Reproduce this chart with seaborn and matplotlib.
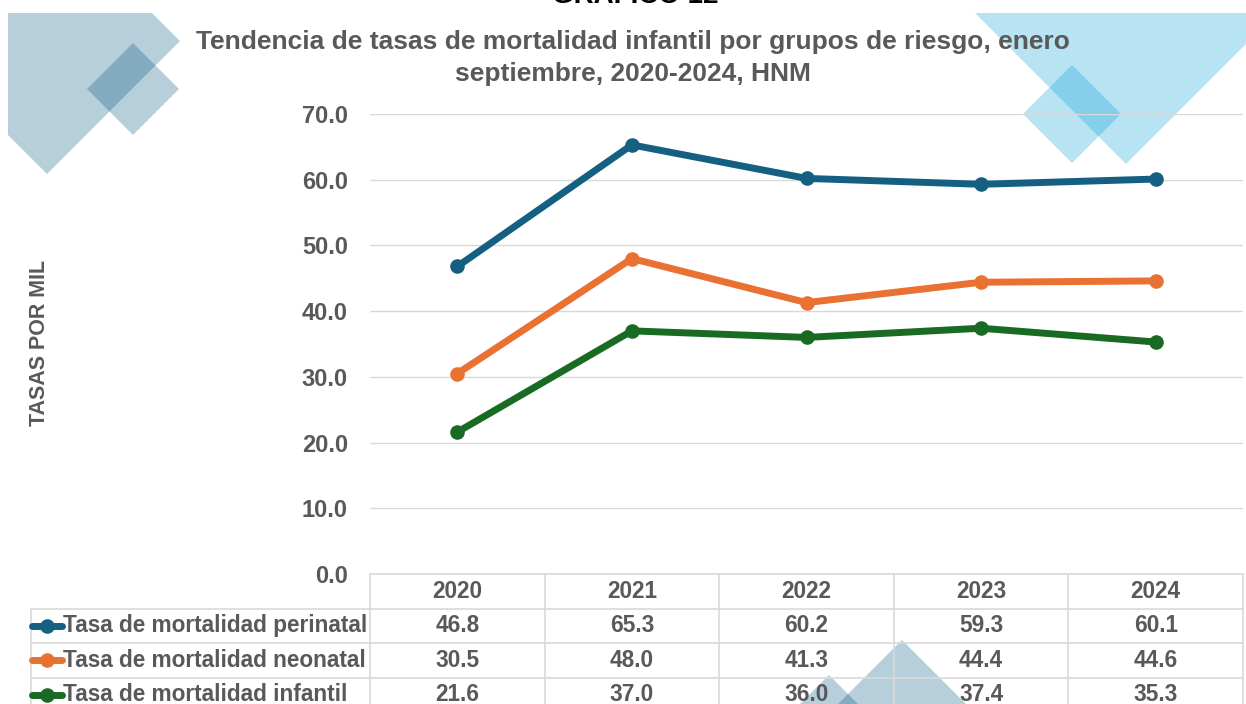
import numpy as np
import pandas as pd
import seaborn as sns
import matplotlib.pyplot as plt
from matplotlib.patches import Polygon, Rectangle
from matplotlib.transforms import blended_transform_factory

# Data
years = ['2020', '2021', '2022', '2023', '2024']
series = ['Tasa de mortalidad perinatal', 'Tasa de mortalidad neonatal', 'Tasa de mortalidad infantil']
perinatal = [46.8, 65.3, 60.2, 59.3, 60.1]
neonatal = [30.5, 48.0, 41.3, 44.4, 44.6]
infantil = [21.6, 37.0, 36.0, 37.4, 35.3]
colors = ['#156082', '#E97132', '#196B24']

values = [perinatal, neonatal, infantil]
pos = np.arange(len(years))
df = pd.DataFrame({
    'pos': np.tile(pos, len(series)),
    'serie': np.repeat(series, len(years)),
    'valor': np.concatenate(values),
})

sns.set_theme(style='white')
plt.rcParams['font.family'] = ['Liberation Sans', 'DejaVu Sans']
plt.rcParams['font.weight'] = 'bold'
text_gray = '#595959'
grid_gray = '#d9d9d9'

W, H = 1246, 704
fig = plt.figure(figsize=(W / 100, H / 100), dpi=100)

# decorative diamonds in pixel coordinates
bg = fig.add_axes([0, 0, 1, 1], zorder=0)
bg.set_xlim(0, W)
bg.set_ylim(H, 0)
bg.axis('off')
clip = Rectangle((8, 13), W, H, transform=bg.transData)


def diamond(cx, cy, r, color, alpha):
    p = Polygon([(cx, cy - r), (cx + r, cy), (cx, cy + r), (cx - r, cy)],
                closed=True, facecolor=color, alpha=alpha, edgecolor='none')
    bg.add_patch(p)
    p.set_clip_path(clip)


grey_blue = '#0a5983'
sky = '#009cd6'
diamond(47, 41, 133, grey_blue, 0.29)
diamond(133, 89, 46, grey_blue, 0.29)
diamond(1126, -86, 250, sky, 0.28)
diamond(1072, 114, 49, sky, 0.28)
diamond(902, 720, 80, grey_blue, 0.29)
diamond(829, 715, 40, grey_blue, 0.29)

# main plot area
x0, x1 = 370, 1243
y_top, y_zero = 114, 574
ax = fig.add_axes([x0 / W, 1 - y_zero / H, (x1 - x0) / W, (y_zero - y_top) / H], zorder=2)
ax.patch.set_alpha(0)
sns.lineplot(data=df, x='pos', y='valor', hue='serie', palette=colors, hue_order=series,
             marker='o', markersize=10.5, markeredgewidth=0, linewidth=5,
             legend=False, ax=ax)
ax.set_xlim(-0.5, len(years) - 0.5)
ax.set_ylim(0, 70)
ax.set_yticks(np.arange(0, 71, 10))
ax.set_yticklabels([f'{v:.1f}' for v in np.arange(0, 71, 10)], color=text_gray,
                   fontsize=17, fontweight='bold')
ax.set_xticks([])
ax.tick_params(axis='y', length=0, pad=16)
ax.grid(axis='y', color=grid_gray, linewidth=1)
ax.set_axisbelow(True)
for s in ax.spines.values():
    s.set_visible(False)
ax.set_xlabel('')
ax.set_ylabel('')
fig.text(40 / W, 1 - 343 / H, 'TASAS POR MIL', rotation=90, ha='center', va='center',
         color=text_gray, fontsize=15.5, fontweight='bold')

# data table below the plot
row_h = 34.5
tab_bottom = y_zero + 4 * row_h
tab = fig.add_axes([x0 / W, 1 - tab_bottom / H, (x1 - x0) / W, 4 * row_h / H], zorder=3)
tab.set_xlim(ax.get_xlim())
tab.set_ylim(4, 0)
tab.axis('off')
label_tr = blended_transform_factory(fig.transFigure, tab.transData)
lab_left = 31 / W
lab_right = x0 / W

kw = dict(color=grid_gray, linewidth=1.2, clip_on=False)
tab.plot([-0.5, len(years) - 0.5], [0, 0], **kw)
for r in range(1, 4):
    tab.plot([-0.5, len(years) - 0.5], [r, r], **kw)
    tab.plot([lab_left, lab_right], [r, r], transform=label_tr, **kw)
for c in range(len(years) + 1):
    tab.plot([c - 0.5, c - 0.5], [0, 4], **kw)
tab.plot([lab_left, lab_left], [1, 4], transform=label_tr, **kw)

fs_tab = 16.3
for i, y in enumerate(years):
    tab.text(i, 0.5, y, ha='center', va='center', color=text_gray, fontsize=fs_tab,
             fontweight='bold', clip_on=False)
for r, (name, vals, col) in enumerate(zip(series, values, colors), start=1):
    tab.plot([32 / W, 62 / W], [r + 0.5, r + 0.5], transform=label_tr, color=col,
             linewidth=5, clip_on=False)
    tab.plot([47 / W], [r + 0.5], transform=label_tr, marker='o', markersize=10.5,
             color=col, markeredgewidth=0, clip_on=False)
    tab.text(63 / W, r + 0.5, name, transform=label_tr, ha='left', va='center',
             color=text_gray, fontsize=fs_tab, fontweight='bold', clip_on=False)
    for i, v in enumerate(vals):
        tab.text(i, r + 0.5, f'{v:.1f}', ha='center', va='center', color=text_gray,
                 fontsize=fs_tab, fontweight='bold', clip_on=False)

# titles
fig.text(635 / W, 1 - 3 / H, 'GRÁFICO 12', ha='center', va='baseline', color='black',
         fontsize=20, fontweight='bold')
fig.text(633 / W, 1 - 58 / H,
         'Tendencia de tasas de mortalidad infantil por grupos de riesgo, enero\nseptiembre, 2020-2024, HNM',
         ha='center', va='center', color=text_gray, fontsize=19, fontweight='bold',
         linespacing=1.45)

fig.savefig('out.png', dpi=100)
